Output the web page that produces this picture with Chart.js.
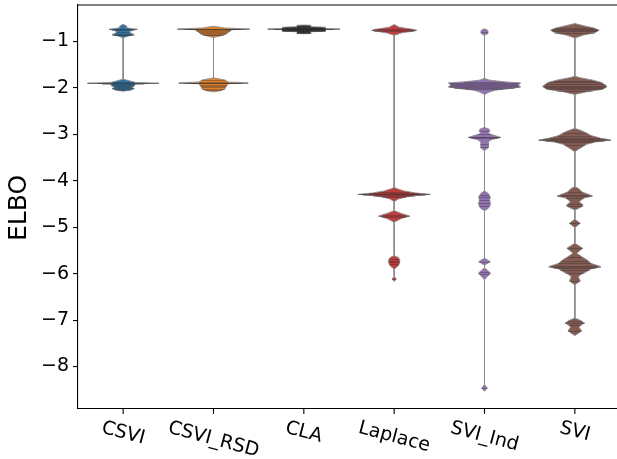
<!DOCTYPE html>
<html>
<head>
<meta charset="utf-8">
<script src="https://cdn.jsdelivr.net/npm/chart.js@4.4.1/dist/chart.umd.min.js"></script>
<style>
  html, body { margin: 0; padding: 0; background: #fff; overflow: hidden; }
  #wrap { width: 621px; height: 459px; }
</style>
</head>
<body>
<div id="wrap"><canvas id="chart" width="621" height="459"></canvas></div>
<script>
const categories = ["CSVI", "CSVI_RSD", "CLA", "Laplace", "SVI_Ind", "SVI"]
const yTicks = [-1, -2, -3, -4, -5, -6, -7, -8]

// violin profiles: ELBO value and relative density (1 = widest)
const csviY = [-0.63, -0.66, -0.68, -0.70, -0.72, -0.735, -0.76, -0.79, -0.82, -0.85, -0.875, -0.92,
  -1.81, -1.84, -1.88, -1.897, -1.91, -1.955, -1.98, -2.01, -2.04, -2.07]
const csviW = [0, 0.08, 0.11, 0.08, 0.22, 0.39, 0.25, 0.17, 0.22, 0.31, 0.17, 0,
  0, 0.14, 0.33, 0.99, 0.33, 0.31, 0.22, 0.31, 0.22, 0]
const csviSticks = [-0.72, -0.735, -0.75, -0.79, -0.83, -0.85, -0.86,
  -1.88, -1.89, -1.897, -1.905, -1.93, -1.96, -1.99, -2.01, -2.02, -2.04]

const rsdY = [-0.671, -0.708, -0.729, -0.746, -0.772, -0.80, -0.828, -0.865, -0.914,
  -1.783, -1.811, -1.832, -1.871, -1.891, -1.91, -1.955, -1.994, -2.026, -2.058, -2.084]
const rsdW = [0, 0.3, 1.0, 0.5, 0.46, 0.4, 0.36, 0.25, 0,
  0, 0.2, 0.33, 0.4, 0.96, 0.4, 0.36, 0.33, 0.31, 0.2, 0]
const rsdSticks = [-0.72, -0.729, -0.735, -0.75, -0.77, -0.79, -0.81, -0.83, -0.85, -0.87,
  -1.83, -1.87, -1.885, -1.891, -1.90, -1.93, -1.96, -1.99, -2.02, -2.05]

const claY = [-0.645, -0.649, -0.682, -0.692, -0.72, -0.729, -0.738, -0.778, -0.789, -0.828, -0.832]
const claW = [0, 0.19, 0.19, 0.6, 0.6, 1.0, 0.6, 0.6, 0.19, 0.19, 0]
const claSticks = [-0.66, -0.67, -0.69, -0.70, -0.71, -0.72, -0.725, -0.729, -0.733, -0.74,
  -0.75, -0.76, -0.77, -0.78, -0.80, -0.81, -0.82]

const laplaceY = [-0.634, -0.692, -0.742, -0.757, -0.772, -0.811, -0.865,
  -4.14, -4.173, -4.22, -4.263, -4.291, -4.317, -4.349, -4.392, -4.45,
  -4.644, -4.704, -4.758, -4.812, -4.893,
  -5.612, -5.65, -5.694, -5.769, -5.823, -5.866, -5.904,
  -6.059, -6.113, -6.167]
const laplaceW = [0, 0.14, 0.55, 0.62, 0.55, 0.22, 0,
  0, 0.08, 0.28, 0.6, 1.0, 0.6, 0.33, 0.11, 0,
  0, 0.2, 0.43, 0.2, 0,
  0, 0.11, 0.15, 0.15, 0.12, 0.06, 0,
  0, 0.06, 0]
const laplaceSticks = [-0.74, -0.757, -0.77, -4.24, -4.27, -4.285, -4.291, -4.30, -4.32, -4.35,
  -4.73, -4.758, -4.78, -5.68, -5.72, -5.76, -5.80, -6.11]

const sviIndY = [-0.725, -0.757, -0.794, -0.832, -0.864,
  -1.796, -1.832, -1.869, -1.891, -1.929, -1.972, -2.005, -2.048, -2.091, -2.14,
  -2.85, -2.886, -2.923, -2.962, -2.994, -3.065, -3.112, -3.16, -3.198, -3.241, -3.284, -3.353,
  -4.22, -4.263, -4.306, -4.349, -4.414, -4.478, -4.543, -4.597, -4.644,
  -5.668, -5.741, -5.818, -5.876, -5.941, -5.99, -6.059, -6.134,
  -8.393, -8.464, -8.533]
const sviIndW = [0, 0.09, 0.1, 0.09, 0,
  0, 0.14, 0.55, 1.0, 0.92, 1.0, 0.8, 0.3, 0.12, 0,
  0, 0.12, 0.15, 0.1, 0.15, 0.45, 0.2, 0.1, 0.11, 0.1, 0.11, 0,
  0, 0.09, 0.13, 0.16, 0.14, 0.16, 0.15, 0.1, 0,
  0, 0.16, 0, 0, 0.1, 0.17, 0.08, 0,
  0, 0.08, 0]
const sviIndSticks = [-0.79, -1.87, -1.89, -1.91, -1.93, -1.95, -1.97, -2.0, -2.03,
  -2.92, -3.0, -3.05, -3.065, -3.08, -3.2, -3.28, -4.3, -4.35, -4.42, -4.48, -4.55,
  -5.74, -5.97, -6.0, -8.46]

const sviY = [-0.613, -0.649, -0.714, -0.757, -0.811, -0.864, -0.923,
  -1.746, -1.779, -1.832, -1.886, -1.962, -2.026, -2.08, -2.14,
  -2.871, -2.908, -2.972, -3.026, -3.08, -3.123, -3.166, -3.22, -3.274, -3.317, -3.375,
  -4.128, -4.166, -4.199, -4.242, -4.285, -4.328, -4.371, -4.414, -4.457, -4.5, -4.536, -4.575, -4.629,
  -4.829, -4.915, -5.01,
  -5.345, -5.453, -5.56, -5.597, -5.64, -5.704, -5.78, -5.848, -5.898, -5.956, -6.005, -6.063,
  -6.113, -6.156, -6.199, -6.242,
  -6.958, -7.006, -7.066, -7.114, -7.161, -7.232, -7.285, -7.333]
const sviW = [0, 0.19, 0.55, 0.67, 0.55, 0.22, 0,
  0, 0.14, 0.5, 0.75, 0.89, 0.78, 0.33, 0,
  0, 0.14, 0.33, 0.45, 0.7, 1.0, 0.55, 0.3, 0.2, 0.11, 0,
  0, 0.1, 0.15, 0.2, 0.35, 0.49, 0.25, 0.18, 0.12, 0.2, 0.23, 0.15, 0,
  0, 0.15, 0,
  0, 0.22, 0.05, 0.12, 0.2, 0.34, 0.45, 0.72, 0.45, 0.33, 0.2, 0.1,
  0.12, 0.15, 0.08, 0,
  0, 0.15, 0.27, 0.15, 0.12, 0.19, 0.1, 0]
const sviSticks = [-0.71, -0.74, -0.757, -0.78, -0.81,
  -1.85, -1.88, -1.92, -1.95, -1.97, -2.0, -2.03, -2.06,
  -2.97, -3.03, -3.08, -3.11, -3.123, -3.14, -3.17, -3.22,
  -4.24, -4.3, -4.33, -4.37, -4.5, -4.54, -4.915,
  -5.45, -5.64, -5.72, -5.78, -5.83, -5.848, -5.87, -5.92, -5.98, -6.15,
  -7.03, -7.066, -7.10, -7.23]

const colors = ["#3274a1", "#e1812c", "#3d3d3d", "#c03d3e", "#9372b2", "#845b53"]
const profiles = [
  { y: csviY, w: csviW, sticks: csviSticks },
  { y: rsdY, w: rsdW, sticks: rsdSticks },
  { y: claY, w: claW, sticks: claSticks },
  { y: laplaceY, w: laplaceW, sticks: laplaceSticks },
  { y: sviIndY, w: sviIndW, sticks: sviIndSticks },
  { y: sviY, w: sviW, sticks: sviSticks }
]

const HALF = 0.4
const FONT = "'DejaVu Sans', sans-serif"

function outline(p, i) {
  const right = p.y.map((v, k) => ({ x: i + p.w[k] * HALF, y: v }))
  const left = p.y.map((v, k) => ({ x: i - p.w[k] * HALF, y: v })).reverse()
  return right.concat(left)
}

function widthAt(p, v) {
  for (let k = 0; k < p.y.length - 1; k++) {
    const a = p.y[k], b = p.y[k + 1]
    if (v <= a && v >= b) {
      const t = a === b ? 0 : (a - v) / (a - b)
      return p.w[k] + t * (p.w[k + 1] - p.w[k])
    }
  }
  return 0
}

const decor = {
  id: "decor",
  afterDatasetsDraw(chart) {
    const { ctx, scales: { x, y } } = chart
    ctx.save()
    ctx.strokeStyle = "rgba(40,40,40,0.35)"
    ctx.lineWidth = 1
    profiles.forEach((p, i) => {
      p.sticks.forEach(v => {
        const w = widthAt(p, v) * HALF
        const py = Math.round(y.getPixelForValue(v)) + 0.5
        ctx.beginPath()
        ctx.moveTo(x.getPixelForValue(i - w), py)
        ctx.lineTo(x.getPixelForValue(i + w), py)
        ctx.stroke()
      })
    })
    ctx.restore()
  },
  afterDraw(chart) {
    const { ctx, chartArea: a, scales: { x } } = chart
    ctx.save()
    ctx.strokeStyle = "#000"
    ctx.lineWidth = 1.1
    ctx.beginPath()
    ctx.moveTo(a.left, a.top)
    ctx.lineTo(a.right, a.top)
    ctx.stroke()

    const ang = 15 * Math.PI / 180
    ctx.font = "19px " + FONT
    ctx.fillStyle = "#000"
    ctx.textAlign = "center"
    ctx.textBaseline = "middle"
    categories.forEach((c, i) => {
      const px = x.getPixelForValue(i)
      ctx.beginPath()
      ctx.moveTo(px, a.bottom)
      ctx.lineTo(px, a.bottom + 5)
      ctx.stroke()
      const w = ctx.measureText(c).width
      const h = 22 * Math.cos(ang) + w * Math.sin(ang)
      ctx.save()
      ctx.translate(px, a.bottom + 8 + h / 2)
      ctx.rotate(ang)
      ctx.fillText(c, 0, 0)
      ctx.restore()
    })

    ctx.font = "25px " + FONT
    ctx.translate(19, 208)
    ctx.rotate(-Math.PI / 2)
    ctx.fillText("ELBO", 0, 0)
    ctx.restore()
  }
}

new Chart(document.getElementById("chart"), {
  type: "scatter",
  data: {
    datasets: profiles.map((p, i) => ({
      data: outline(p, i),
      showLine: true,
      fill: "shape",
      backgroundColor: colors[i],
      borderColor: "#8a8a8a",
      borderWidth: 0.9,
      pointRadius: 0,
      tension: 0
    }))
  },
  options: {
    responsive: false,
    animation: false,
    devicePixelRatio: 1,
    layout: { padding: { top: 5, right: 1, left: 0, bottom: 0 } },
    plugins: { legend: { display: false }, tooltip: { enabled: false } },
    scales: {
      x: {
        type: "linear",
        min: -0.5,
        max: 5.5,
        grid: { display: false },
        ticks: { display: false },
        border: { color: "#000", width: 1.1 },
        afterFit: s => { s.height = 50; s.paddingLeft = 0; s.paddingRight = 0 }
      },
      y: {
        min: -8.916,
        max: -0.213,
        afterBuildTicks: s => { s.ticks = yTicks.map(v => ({ value: v })) },
        grid: { drawOnChartArea: false, tickLength: 5, color: "#000", lineWidth: 1.1 },
        border: { color: "#000", width: 1.1 },
        ticks: {
          color: "#000",
          padding: 4,
          font: { size: 19, family: FONT },
          callback: v => "\u2212" + Math.abs(v)
        },
        afterFit: s => { s.width = 78; s.paddingTop = 0; s.paddingBottom = 0 }
      }
    }
  },
  plugins: [decor]
})
</script>
</body>
</html>
